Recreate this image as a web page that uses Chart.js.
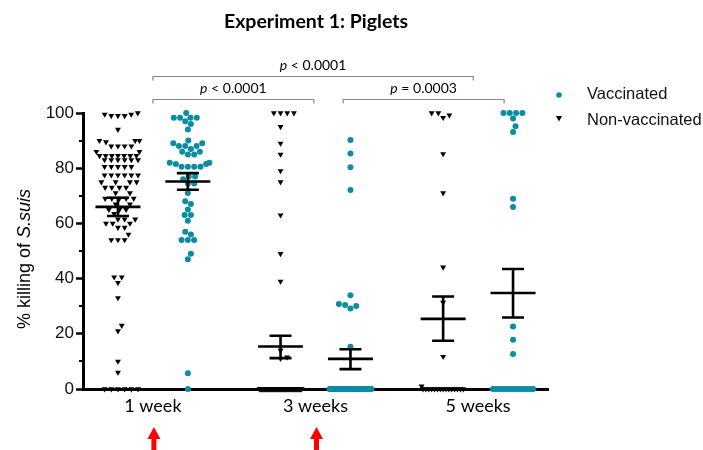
<!DOCTYPE html>
<html><head><meta charset="utf-8">
<script src="https://cdn.jsdelivr.net/npm/chart.js@4.4.1/dist/chart.umd.min.js"></script>
<style>html,body{margin:0;padding:0;background:#fff}#wrap{width:703px;height:450px;position:relative}</style>
</head><body><div id="wrap"><canvas id="c" width="703" height="450"></canvas></div>
<script>
// ---------- DATA ----------
const categories = ['1 week', '3 weeks', '5 weeks'];
const seriesNames = ['Vaccinated', 'Non-vaccinated'];
const yTicks = [0, 20, 40, 60, 80, 100];

const nonVacc1wk = [100, 99, 99, 99, 99.5, 99.5, 94, 90, 90, 90, 89.5, 88, 88, 88, 88, 86, 86,
  84.5, 84.5, 84.5, 84.5, 84.5, 84.5, 84.5, 83, 83, 83, 83, 83, 83, 80.5, 80.5, 80.5, 80.5, 80.5,
  77.5, 77.5, 77.5, 77.5, 77.5, 77.5, 75, 75, 75, 75, 73, 73, 73, 73, 71, 71, 69, 69, 69, 69, 69,
  67, 67, 65, 65, 65, 63.5, 61.5, 61.5, 61.5, 60, 60, 60, 58.5, 58.5, 56, 54, 54, 54,
  40.5, 40.5, 38.5, 33, 23, 21, 10, 6, 0, 0, 0, 0, 0, 0];
const vacc1wk = [100, 98.3, 98.3, 98.3, 98.3, 97, 96, 94, 90, 89, 89, 88, 88, 88, 87, 86, 86, 85, 85,
  82, 82, 81.5, 81.5, 80.5, 80.5, 80.5, 80.5, 77, 77, 76, 74.5, 74.5, 71, 68, 67, 65, 63, 63, 61,
  57, 56, 54, 54, 54, 49, 47, 5.7, 0];
const nonVacc3wk = [100, 100, 100, 100, 95, 89, 85, 79, 75, 63, 49, 39, 14, 11.5, 11,
  0, 0, 0, 0, 0, 0, 0, 0, 0, 0, 0, 0, 0, 0, 0, 0, 0, 0, 0, 0, 0, 0, 0, 0, 0, 0, 0, 0, 0, 0,
  0, 0, 0, 0, 0, 0, 0, 0, 0, 0, 0, 0, 0, 0, 0, 0, 0, 0, 0, 0, 0, 0, 0, 0, 0, 0, 0, 0];
const vacc3wk = [90.2, 85.3, 80.3, 72.1, 34, 30.8, 30.4, 30.1, 29.2, 15.3,
  0, 0, 0, 0, 0, 0, 0, 0, 0, 0, 0, 0, 0, 0, 0, 0, 0, 0, 0, 0, 0, 0, 0, 0, 0, 0, 0, 0, 0, 0,
  0, 0, 0, 0, 0, 0];
const nonVacc5wk = [100, 98.3, 99.2, 100, 85.2, 71, 44.1, 31.4, 11.7, 1,
  0, 0, 0, 0, 0, 0, 0, 0, 0, 0, 0, 0, 0, 0, 0];
const vacc5wk = [100, 100, 100, 100, 98, 95.2, 93.1, 68.9, 65.9, 22.6, 17.8, 12.7,
  0, 0, 0, 0, 0, 0, 0, 0, 0, 0, 0, 0, 0, 0, 0, 0];

const meanNonVacc = [66.0, 15.4, 25.4];
const semHighNonVacc = [69.3, 19.3, 33.5];
const semLowNonVacc = [62.7, 11.2, 17.5];
const meanVacc = [75.2, 10.9, 34.8];
const semHighVacc = [78.2, 14.4, 43.5];
const semLowVacc = [72.2, 7.2, 25.9];

const pLabels = ['p < 0.0001', 'p < 0.0001', 'p = 0.0003'];

// ---------- LAYOUT / STYLE ----------
const W = 703, H = 450;
const PAD = {left: 83, right: 155, top: 113, bottom: 61};
const X_MIN = -0.43, X_MAX = 2.43, GROUP_OFF = 0.215;
const PX_PER_X = (W - PAD.left - PAD.right) / (X_MAX - X_MIN);
const PX_PER_Y = (H - PAD.top - PAD.bottom) / 100;
const TEAL = '#0b8ca3';
const BLACK = '#000';

function swarm(values, D, maxHalf) {
  const idx = values.map((v, i) => i).sort((a, b) => values[a] - values[b]);
  const counts = {};
  values.forEach(v => counts[v] = (counts[v] || 0) + 1);
  const denseDone = {};
  const placed = [];
  const out = new Array(values.length);
  for (const i of idx) {
    const v = values[i], y = v * PX_PER_Y;
    if (counts[v] * D > 2 * maxHalf) {
      const n = counts[v], k = denseDone[v] || 0;
      denseDone[v] = k + 1;
      const x = -maxHalf + (2 * maxHalf) * (k + 0.5) / n;
      out[i] = x; placed.push({x, y}); continue;
    }
    const cands = [0];
    for (const p of placed) {
      const dy = Math.abs(p.y - y);
      if (dy < D) { const dx = Math.sqrt(D * D - dy * dy); cands.push(p.x + dx, p.x - dx); }
    }
    cands.sort((a, b) => Math.abs(a) - Math.abs(b));
    let best = null;
    for (const c of cands) {
      if (placed.every(p => (p.x - c) ** 2 + (p.y - y) ** 2 >= D * D - 0.01)) { best = c; break; }
    }
    if (best === null) best = 0;
    best = Math.max(-maxHalf, Math.min(maxHalf, best));
    out[i] = best; placed.push({x: best, y});
  }
  return out;
}

function buildPoints(groups, side, D) {
  const pts = [];
  groups.forEach((vals, g) => {
    const offs = swarm(vals, D, 21.5);
    vals.forEach((v, i) => pts.push({x: g + side * GROUP_OFF + offs[i] / PX_PER_X, y: v}));
  });
  return pts;
}

const vaccPoints = buildPoints([vacc1wk, vacc3wk, vacc5wk], 1, 6.3);
const nonVaccPoints = buildPoints([nonVacc1wk, nonVacc3wk, nonVacc5wk], -1, 6.7);

const decor = {
  id: 'decor',
  beforeDatasetsDraw(chart) {
    const ctx = chart.ctx, y = chart.scales.y;
    ctx.save();
    ctx.strokeStyle = BLACK; ctx.lineWidth = 2;
    for (let v = 10; v < 100; v += 20) {
      const py = Math.round(y.getPixelForValue(v));
      ctx.beginPath(); ctx.moveTo(y.right - 4, py); ctx.lineTo(y.right, py); ctx.stroke();
    }
    ctx.restore();
  },
  afterDatasetsDraw(chart) {
    const ctx = chart.ctx, xs = chart.scales.x, ys = chart.scales.y;
    ctx.save();
    // mean +/- SEM
    ctx.strokeStyle = BLACK; ctx.lineWidth = 2.6; ctx.lineCap = 'butt';
    const drawErr = (side, m, hi, lo) => {
      categories.forEach((c, g) => {
        const cx = xs.getPixelForValue(g + side * GROUP_OFF);
        const pm = ys.getPixelForValue(m[g]), ph = ys.getPixelForValue(hi[g]), pl = ys.getPixelForValue(lo[g]);
        ctx.beginPath();
        ctx.moveTo(cx - 22.5, pm); ctx.lineTo(cx + 22.5, pm);
        ctx.moveTo(cx - 11, ph); ctx.lineTo(cx + 11, ph);
        ctx.moveTo(cx - 11, pl); ctx.lineTo(cx + 11, pl);
        ctx.moveTo(cx, ph); ctx.lineTo(cx, pl);
        ctx.stroke();
      });
    };
    drawErr(-1, meanNonVacc, semHighNonVacc, semLowNonVacc);
    drawErr(1, meanVacc, semHighVacc, semLowVacc);

    // significance brackets
    const brackets = [
      {x0: 0, x1: 1.97, y: 76.5, ty: 65, label: pLabels[0]},
      {x0: 0, x1: 0.99, y: 99.5, ty: 88, label: pLabels[1]},
      {x0: 1.17, x1: 2.16, y: 99.5, ty: 88, label: pLabels[2]}
    ];
    brackets.forEach(b => {
      const a = xs.getPixelForValue(b.x0), e = xs.getPixelForValue(b.x1);
      ctx.strokeStyle = '#8a8a8a'; ctx.lineWidth = 1.2;
      ctx.beginPath();
      ctx.moveTo(a, b.y + 4); ctx.lineTo(a, b.y); ctx.lineTo(e, b.y); ctx.lineTo(e, b.y + 4);
      ctx.stroke();
      const rest = b.label.slice(1);
      ctx.font = 'italic 14px Lato'; const w1 = ctx.measureText('p').width;
      ctx.font = '14px Lato'; const w2 = ctx.measureText(rest).width;
      const sx = (a + e) / 2 - (w1 + w2) / 2;
      ctx.fillStyle = BLACK; ctx.textBaseline = 'middle'; ctx.textAlign = 'left';
      ctx.font = 'italic 14px Lato'; ctx.fillText('p', sx, b.ty);
      ctx.font = '14px Lato'; ctx.fillText(rest, sx + w1, b.ty);
    });

    // legend
    ctx.fillStyle = TEAL;
    ctx.beginPath(); ctx.arc(559, 95, 2.8, 0, Math.PI * 2); ctx.fill();
    ctx.fillStyle = BLACK;
    ctx.beginPath(); ctx.moveTo(556, 116); ctx.lineTo(562, 116); ctx.lineTo(559, 121.5); ctx.closePath(); ctx.fill();
    ctx.font = '16.5px "Liberation Sans", Arial'; ctx.textBaseline = 'middle'; ctx.textAlign = 'left';
    ctx.fillStyle = '#111';
    ctx.fillText(seriesNames[0], 587, 94);
    ctx.fillText(seriesNames[1], 587, 120);

    // title
    ctx.font = 'bold 19.5px Lato'; ctx.textAlign = 'center'; ctx.textBaseline = 'alphabetic';
    ctx.fillStyle = BLACK;
    ctx.fillText('Experiment 1: Piglets', 316, 28);

    // y axis title with italic species name
    ctx.save();
    ctx.translate(25, 259); ctx.rotate(-Math.PI / 2);
    ctx.textBaseline = 'middle'; ctx.textAlign = 'left';
    ctx.font = '18px "Liberation Sans", Arial'; const t1 = '% killing of ';
    const wa = ctx.measureText(t1).width;
    ctx.font = 'italic 18px "Liberation Sans", Arial'; const wb = ctx.measureText('S.suis').width;
    const st = -(wa + wb) / 2;
    ctx.font = '18px "Liberation Sans", Arial'; ctx.fillText(t1, st, 0);
    ctx.font = 'italic 18px "Liberation Sans", Arial'; ctx.fillText('S.suis', st + wa, 0);
    ctx.restore();

    // red arrows under 1 week and 3 weeks
    ctx.fillStyle = '#ff0000';
    [0, 1].forEach(g => {
      const ax = xs.getPixelForValue(g) + 1;
      ctx.beginPath();
      ctx.moveTo(ax, 427); ctx.lineTo(ax + 6.5, 439); ctx.lineTo(ax + 2.5, 439); ctx.lineTo(ax + 2.5, 451);
      ctx.lineTo(ax - 2.5, 451); ctx.lineTo(ax - 2.5, 439); ctx.lineTo(ax - 6.5, 439); ctx.closePath();
      ctx.fill();
    });
    ctx.restore();
  }
};

new Chart(document.getElementById('c'), {
  type: 'scatter',
  data: {
    datasets: [
      {label: seriesNames[0], data: vaccPoints, backgroundColor: TEAL, borderColor: TEAL,
        pointStyle: 'circle', pointRadius: 3, borderWidth: 0, clip: false},
      {label: seriesNames[1], data: nonVaccPoints, backgroundColor: BLACK, borderColor: BLACK,
        pointStyle: 'triangle', pointRotation: 180, pointRadius: 3.4, borderWidth: 0, clip: false}
    ]
  },
  options: {
    responsive: false, animation: false, devicePixelRatio: 1,
    layout: {padding: {left: 0, right: PAD.right, top: PAD.top, bottom: 0}},
    plugins: {legend: {display: false}, title: {display: false}, tooltip: {enabled: false}},
    events: [],
    scales: {
      x: {
        type: 'linear', min: X_MIN, max: X_MAX,
        afterBuildTicks: s => { s.ticks = categories.map((c, i) => ({value: i})); },
        afterFit: s => { s.height = PAD.bottom; },
        ticks: {callback: (v) => categories[v] || '', color: BLACK, padding: 6,
          font: {family: 'Lato', size: 18}, maxRotation: 0, autoSkip: false},
        grid: {display: false, drawTicks: false},
        border: {display: true, color: BLACK, width: 3}
      },
      y: {
        type: 'linear', min: 0, max: 100,
        afterBuildTicks: s => { s.ticks = yTicks.map(v => ({value: v})); },
        afterFit: s => { s.width = PAD.left; },
        ticks: {color: '#111', padding: 2, font: {family: '"Liberation Sans", Arial', size: 17}},
        grid: {display: true, drawOnChartArea: false, drawTicks: true, tickLength: 7, tickWidth: 2.5, tickColor: BLACK},
        border: {display: true, color: BLACK, width: 3}
      }
    }
  },
  plugins: [decor]
});
</script>
</body></html>
